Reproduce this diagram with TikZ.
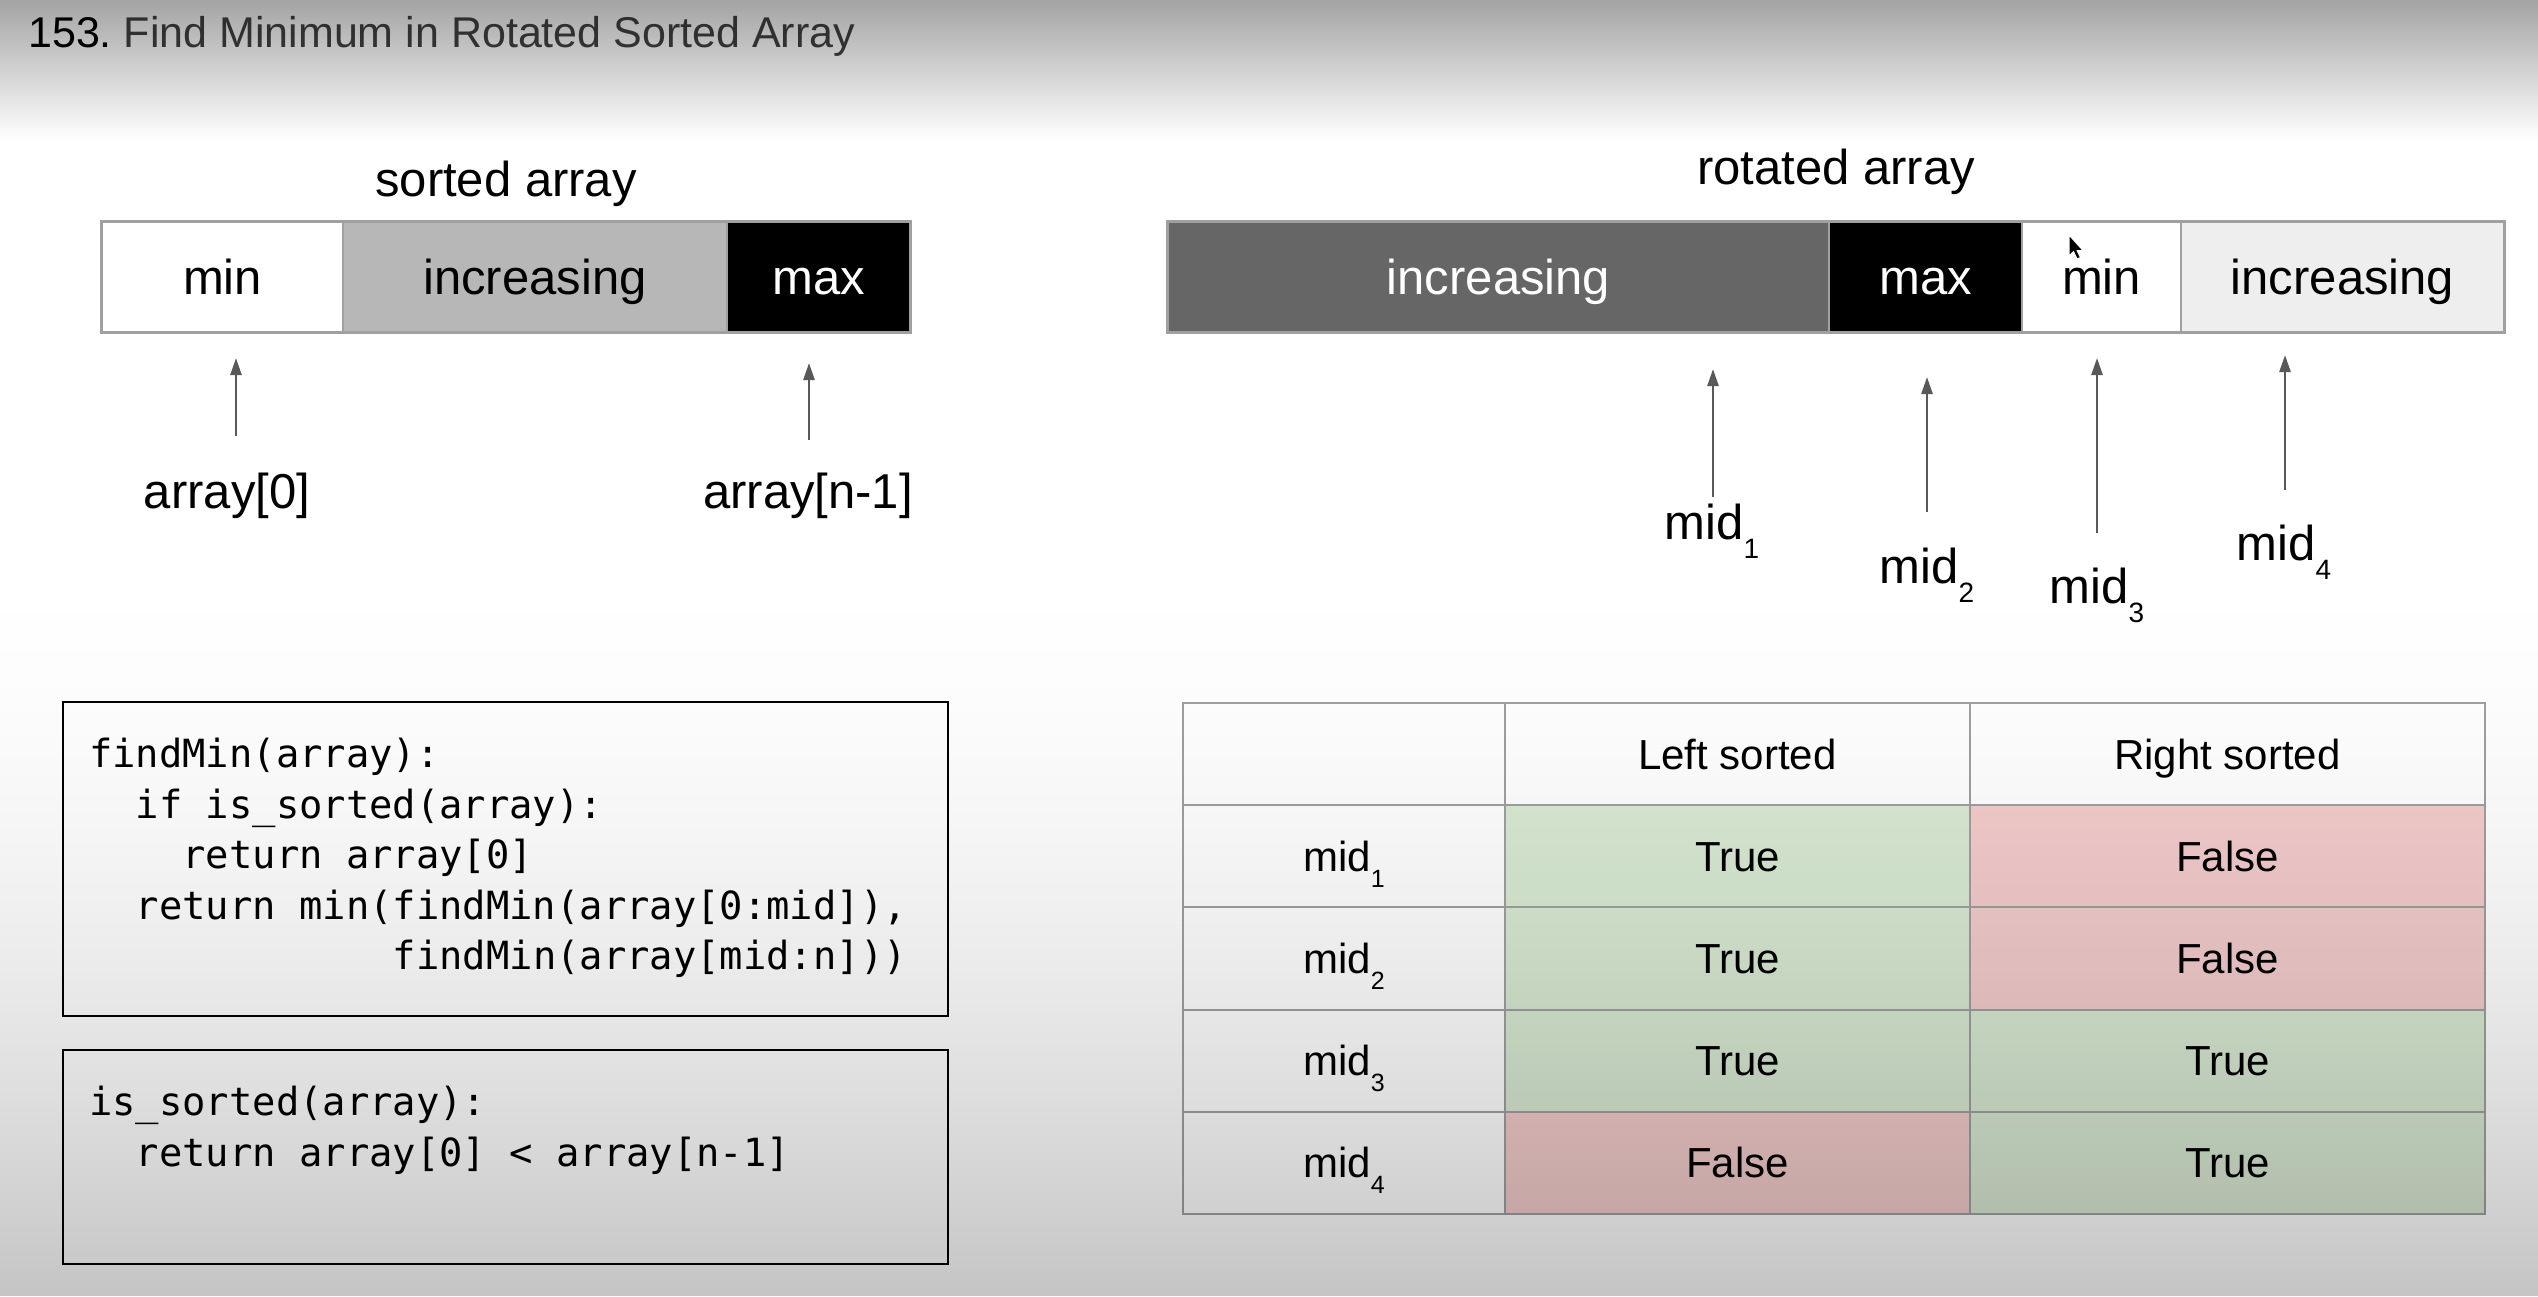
\documentclass[tikz,border=0pt]{standalone}
\usepackage{fontspec}
\setmainfont{Liberation Sans}
\setmonofont{DejaVu Sans Mono}
\usetikzlibrary{arrows.meta}

\definecolor{barborder}{HTML}{A0A0A0}
\definecolor{midgray}{HTML}{B7B7B7}
\definecolor{darkfill}{HTML}{666666}
\definecolor{paleFill}{HTML}{EEEEEE}
\definecolor{arrowgray}{HTML}{595959}
\definecolor{truegreen}{HTML}{D9EAD3}
\definecolor{falsered}{HTML}{F4CCCC}
\definecolor{gridgray}{HTML}{A0A0A0}
\definecolor{titlegray}{HTML}{434343}

% font size helper
\newcommand\setfs[1]{\fontsize{#1}{#1}\selectfont}
% "mid" with a lowered index
\newcommand\midsub[3]{mid\raisebox{-#3pt}{\setfs{#2}#1}}

\tikzset{
  barcell/.style={draw=barborder, line width=1.5pt, inner sep=0pt,
    minimum height=110pt, text height=35pt, text depth=0pt,
    font=\setfs{49}},
  ptr/.style={draw=arrowgray, line width=2.5pt,
    -{Triangle[length=17pt,width=11pt]}},
  biglabel/.style={anchor=base, inner sep=0pt, font=\setfs{49}},
  codeline/.style={anchor=base west, inner sep=0pt,
    font=\ttfamily\setfs{38.8}},
  codebox/.style={draw=black, line width=2.5pt},
  tcell/.style={draw=gridgray, line width=2pt, inner sep=0pt,
    minimum height=102.2pt, text height=30pt, text depth=0pt,
    font=\setfs{42}},
}

\begin{document}
\begin{tikzpicture}[x=1pt, y=-1pt]
\useasboundingbox (0,0) rectangle (2538,1296);
\fill[white] (0,0) rectangle (2538,1296);

% title
\node[anchor=base west, inner sep=0pt, font=\setfs{43}] (title) at (28,47)
  {\textcolor{black}{153.}\ \textcolor{titlegray}{Find Minimum in Rotated Sorted Array}};

% ---------- sorted array ----------
\node[biglabel] (sortedlbl) at (506,196) {sorted array};
\node[barcell, fill=white, minimum width=241pt] (s1) at (222.5,277) {min};
\node[barcell, fill=midgray, minimum width=384pt] (s2) at (535,277) {increasing};
\node[barcell, fill=black, text=white, minimum width=183pt] (s3) at (818.5,277) {max};
\draw[barborder, line width=3pt] (s1.north west) rectangle (s3.south east);

\coordinate (a0tip) at (236,358);
\coordinate (a0tail) at (236,436);
\coordinate (anTip) at (809,363);
\coordinate (anTail) at (809,440);
\draw[ptr] (a0tail) -- (a0tip);
\draw[ptr] (anTail) -- (anTip);
\node[biglabel] (a0) at (227,508) {array[0]};
\node[biglabel] (an) at (808,508) {array[n-1]};

% ---------- rotated array ----------
\node[biglabel] (rotlbl) at (1836,184) {rotated array};
\node[barcell, fill=darkfill, text=white, minimum width=661pt] (r1) at (1498.5,277) {increasing};
\node[barcell, fill=black, text=white, minimum width=193pt] (r2) at (1925.5,277) {max};
\node[barcell, fill=white, minimum width=159pt] (r3) at (2101.5,277) {min};
\node[barcell, fill=paleFill, minimum width=323pt] (r4) at (2342.5,277) {increasing};
\draw[barborder, line width=3pt] (r1.north west) rectangle (r4.south east);

% mouse pointer
\coordinate (cursor) at (2069,235);
\fill[black, draw=white, line width=1pt, line join=round, shift={(cursor)}]
  (0,0) -- (0,21) -- (4.5,16.5) -- (8,24) -- (11.5,22.5) -- (8,15.5) -- (14,15.5) -- cycle;

\coordinate (m1tip) at (1713,369);  \coordinate (m1tail) at (1713,497);
\coordinate (m2tip) at (1927,377);  \coordinate (m2tail) at (1927,512);
\coordinate (m3tip) at (2097,358);  \coordinate (m3tail) at (2097,533);
\coordinate (m4tip) at (2285,355);  \coordinate (m4tail) at (2285,490);
\draw[ptr] (m1tail) -- (m1tip);
\draw[ptr] (m2tail) -- (m2tip);
\draw[ptr] (m3tail) -- (m3tip);
\draw[ptr] (m4tail) -- (m4tip);
\node[biglabel] (m1) at (1712,539) {\midsub{1}{28}{19}};
\node[biglabel] (m2) at (1927,583) {\midsub{2}{28}{19}};
\node[biglabel] (m3) at (2097,603) {\midsub{3}{28}{19}};
\node[biglabel] (m4) at (2284,560) {\midsub{4}{28}{19}};

% ---------- code boxes ----------
\draw[codebox] (63,702) rectangle (948,1016);
\node[codeline] (c1) at (89,767) {findMin(array):};
\node[codeline] (c2) at (89,818) {\phantom{xx}if is\_sorted(array):};
\node[codeline] (c3) at (89,868) {\phantom{xxxx}return array[0]};
\node[codeline] (c4) at (89,919) {\phantom{xx}return min(findMin(array[0:mid]),};
\node[codeline] (c5) at (89,969) {\phantom{xxxxxxxxxxxxx}findMin(array[mid:n]))};

\draw[codebox] (63,1050) rectangle (948,1264);
\node[codeline] (d1) at (89,1115) {is\_sorted(array):};
\node[codeline] (d2) at (89,1166) {\phantom{xx}return array[0] < array[n-1]};

% ---------- table ----------
\def\ca{1344} \def\cb{1737.5} \def\cc{2227.5}
\def\wa{322pt} \def\wb{465pt} \def\wc{515pt}
\node[tcell, fill=white, minimum width=\wa] (h0) at (\ca,754.1) {};
\node[tcell, fill=white, minimum width=\wb] (h1) at (\cb,754.1) {Left sorted};
\node[tcell, fill=white, minimum width=\wc] (h2) at (\cc,754.1) {Right sorted};

\node[tcell, fill=white, minimum width=\wa] (l1) at (\ca,856.3) {\midsub{1}{25}{16}};
\node[tcell, fill=truegreen, minimum width=\wb] (t11) at (\cb,856.3) {True};
\node[tcell, fill=falsered, minimum width=\wc] (t12) at (\cc,856.3) {False};

\node[tcell, fill=white, minimum width=\wa] (l2) at (\ca,958.5) {\midsub{2}{25}{16}};
\node[tcell, fill=truegreen, minimum width=\wb] (t21) at (\cb,958.5) {True};
\node[tcell, fill=falsered, minimum width=\wc] (t22) at (\cc,958.5) {False};

\node[tcell, fill=white, minimum width=\wa] (l3) at (\ca,1060.7) {\midsub{3}{25}{16}};
\node[tcell, fill=truegreen, minimum width=\wb] (t31) at (\cb,1060.7) {True};
\node[tcell, fill=truegreen, minimum width=\wc] (t32) at (\cc,1060.7) {True};

\node[tcell, fill=white, minimum width=\wa] (l4) at (\ca,1162.9) {\midsub{4}{25}{16}};
\node[tcell, fill=falsered, minimum width=\wb] (t41) at (\cb,1162.9) {False};
\node[tcell, fill=truegreen, minimum width=\wc] (t42) at (\cc,1162.9) {True};

% ---------- shading of the frame: dark at the top and toward the bottom ----------
\foreach \yy in {0,2,...,138}{
  \pgfmathsetmacro\op{0.36*(1-(\yy+1)/140)}
  \fill[black, opacity=\op] (0,\yy) rectangle (2538,\yy+2);
}
\foreach \yy in {560,564,...,1292}{
  \pgfmathsetmacro\op{0.23*pow((\yy+2-560)/736,1.8)}
  \fill[black, opacity=\op] (0,\yy) rectangle (2538,\yy+4);
}
\end{tikzpicture}
\end{document}
